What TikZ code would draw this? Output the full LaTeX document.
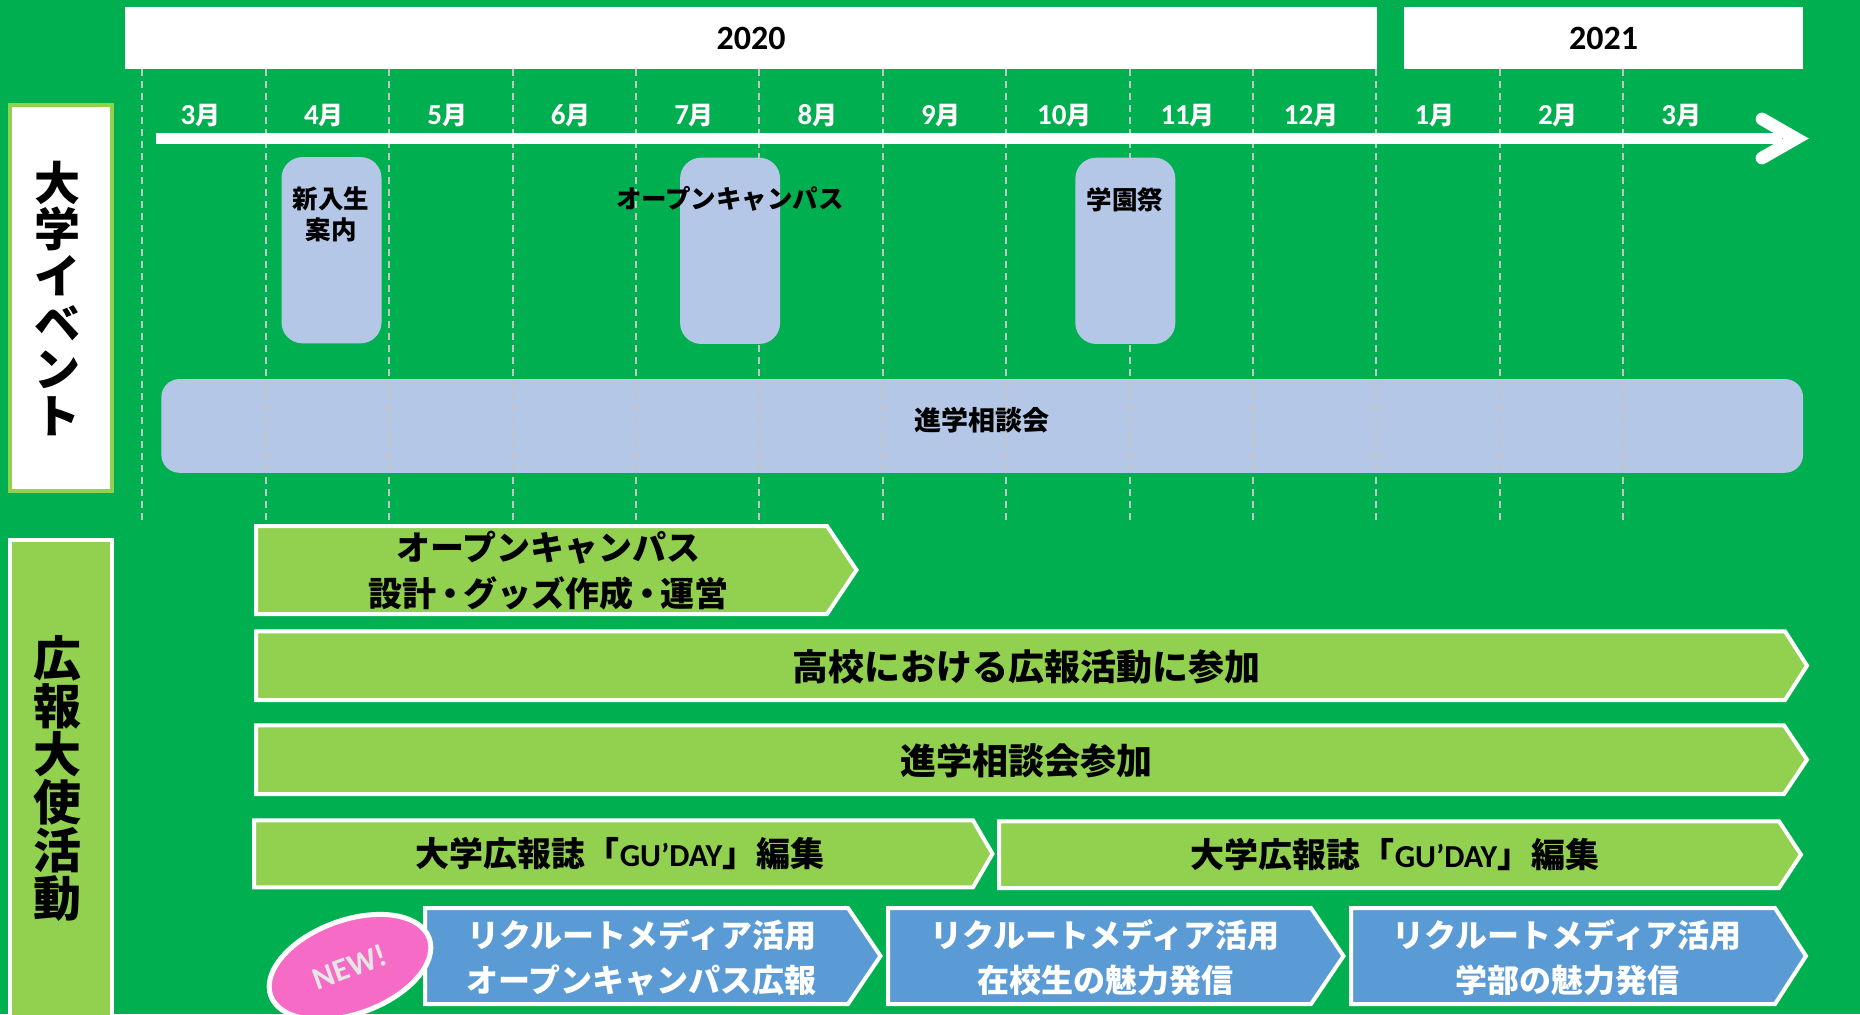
\documentclass[tikz,border=0pt]{standalone}
\usepackage{fontspec}
\setmainfont{Carlito}
\newfontfamily\jpf{Noto Sans CJK JP}
\usetikzlibrary{shapes.geometric}
\definecolor{bggreen}{HTML}{00B050}
\definecolor{lgreen}{HTML}{92D050}
\definecolor{evblue}{HTML}{B4C7E7}
\definecolor{mblue}{HTML}{5B9BD5}
\definecolor{pinkn}{HTML}{F66BC6}
\definecolor{dashgray}{HTML}{C4C4C4}
\definecolor{newtxt}{HTML}{E7E6E6}
\newcommand\chevshape[6]{\draw[#1] (#2,#3) -- (#4,#3) -- (#6,{(#3+#5)/2}) -- (#4,#5) -- (#2,#5) -- cycle;}
\newcommand\ndot{\kern-.1em・\kern-.1em}
\begin{document}
\begin{tikzpicture}[x=0.5pt,y=-0.5pt,
  jp/.style={inner sep=0pt, align=center},
  yearbox/.style={fill=white, inner sep=0pt, minimum height=30.7pt, font=\bfseries\fontsize{17}{20}\selectfont},
  monthlbl/.style={text=white, inner sep=0pt, font=\bfseries},
  evbox/.style={fill=evblue, rounded corners=10.5pt, inner sep=0pt, minimum width=50pt, minimum height=93.15pt},
  dashline/.style={draw=dashgray, line width=1pt, dash pattern=on 3.5pt off 2.5pt},
  gchev/.style={fill=lgreen, draw=white, line width=2pt},
  bchev/.style={fill=mblue, draw=white, line width=2pt},
]
\useasboundingbox (0,0) rectangle (1860,1014);
\fill[bggreen] (0,0) rectangle (1860,1014);

% year boxes
\node[yearbox, minimum width=626pt] (y2020) at (751,38) {2020};
\node[yearbox, minimum width=199.5pt] (y2021) at (1603.5,38) {2021};

% big bar
\node[fill=evblue, rounded corners=9pt, inner sep=0pt, minimum width=820.85pt, minimum height=46.85pt] (soudan) at (982.2,425.9) {};

% month grid
\foreach \k in {0,...,12} {
  \draw[dashline] ({142.3+123.4*\k},69) -- ({142.3+123.4*\k},520);
}
\node[jp, font=\jpf\bfseries\fontsize{13.5}{16}\selectfont] (soudant) at (982,420) {進学相談会};

% timeline
\coordinate (tlstart) at (156,138.5);
\coordinate (tlend) at (1782,138.5);
\coordinate (tltip) at (1796,138.5);
\coordinate (tlup) at (1762,119);
\coordinate (tldown) at (1762,158);
\draw[white, line width=5.85pt] (tlstart) -- (tlend);
\draw[white, line width=6.35pt, line cap=round, line join=miter] (tlup) -- (tltip) -- (tldown);

\foreach \m [count=\k from 0] in {3,4,5,6,7,8,9,10,11,12,1,2,3} {
  \node[monthlbl] (m\k) at ({200.5+123.4*\k},116) {\fontsize{14.5}{17}\selectfont\m{\jpf\fontsize{12.5}{17}\selectfont 月}};
}

% events
\node[evbox] (ev1) at (331.5,250.2) {};
\node[evbox] (ev2) at (730.1,250.8) {};
\node[evbox] (ev3) at (1125.3,250.8) {};
\node[jp, font=\jpf\bfseries\fontsize{12.75}{15.8}\selectfont] (ev1t) at (331,214.2) {新入生\\案内};
\node[jp, font=\jpf\bfseries\fontsize{12.75}{15.8}\selectfont] (ev2t) at (730,199) {オープンキャンパス};
\node[jp, font=\jpf\bfseries\fontsize{12.75}{15.8}\selectfont] (ev3t) at (1125,199.3) {学園祭};

% left labels
\node[draw=lgreen, fill=white, line width=2pt, inner sep=0pt, minimum width=51pt, minimum height=193pt] (lbl1box) at (60.9,297.7) {};
\node[jp, font=\jpf\bfseries\fontsize{23}{23.35}\selectfont] (lbl1) at (57.3,298.3) {大\\学\\イ\\ベ\\ン\\ト};
\node[draw=white, fill=lgreen, line width=2pt, inner sep=0pt, minimum width=51pt, minimum height=245pt] (lbl2box) at (60.9,784.7) {};
\node[jp, font=\jpf\bfseries\fontsize{24}{24}\selectfont] (lbl2) at (57.3,778.3) {広\\報\\大\\使\\活\\動};

% green arrows
\chevshape{gchev}{256}{526}{827}{614}{856.5}
\chevshape{gchev}{256}{631.3}{1785}{700}{1807}
\chevshape{gchev}{256}{725.3}{1784}{794}{1807}
\chevshape{gchev}{254}{820.3}{973}{887.3}{992.5}
\chevshape{gchev}{999}{821.3}{1779}{888}{1801}
\node[jp, font=\jpf\bfseries\fontsize{17}{23}\selectfont] (a1) at (548.6,571) {オープンキャンパス\\設計\ndot グッズ作成\ndot 運営};
\node[jp, font=\jpf\bfseries\fontsize{18}{20}\selectfont] (a2) at (1026,666.7) {高校における広報活動に参加};
\node[jp, font=\jpf\bfseries\fontsize{18}{20}\selectfont] (a3) at (1026,761) {進学相談会参加};
\node[jp, font=\jpf\bfseries\fontsize{17}{20}\selectfont] (a4) at (620,853.5) {大学広報誌「{\rmfamily\fontsize{16}{20}\selectfont GU’DAY}」編集};
\node[jp, font=\jpf\bfseries\fontsize{17}{20}\selectfont] (a5) at (1395,854) {大学広報誌「{\rmfamily\fontsize{16}{20}\selectfont GU’DAY}」編集};

% blue arrows
\chevshape{bchev}{425}{908}{848}{1004}{880.5}
\chevshape{bchev}{888}{908}{1311}{1004}{1343.5}
\chevshape{bchev}{1351}{908}{1775}{1004}{1806}
\node[jp, text=white, font=\jpf\bfseries\fontsize{16}{22.5}\selectfont] (b1) at (641.7,957.5) {リクルートメディア活用\\オープンキャンパス広報};
\node[jp, text=white, font=\jpf\bfseries\fontsize{16}{22.5}\selectfont] (b2) at (1105,957.5) {リクルートメディア活用\\在校生の魅力発信};
\node[jp, text=white, font=\jpf\bfseries\fontsize{16}{22.5}\selectfont] (b3) at (1567,957.5) {リクルートメディア活用\\学部の魅力発信};

% NEW badge
\node[ellipse, fill=pinkn, draw=white, line width=2.5pt, minimum width=84.3pt, minimum height=46.8pt, inner sep=0pt, rotate=20, text=newtxt, font=\bfseries\fontsize{16}{18}\selectfont] (new) at (350,967) {NEW!};
\end{tikzpicture}
\end{document}
